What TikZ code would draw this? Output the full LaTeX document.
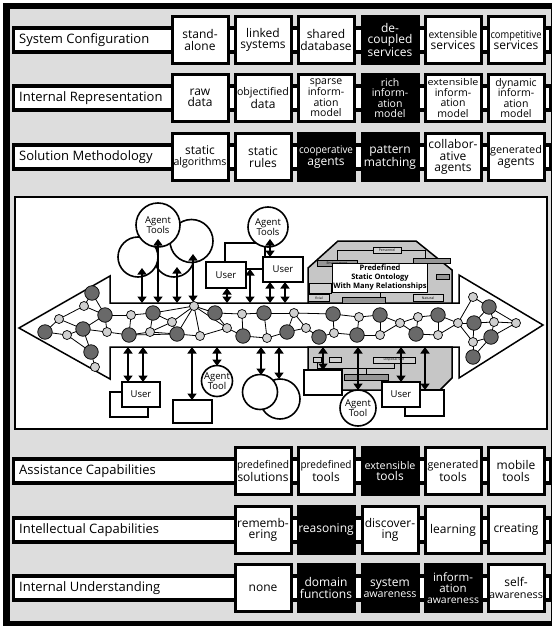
\documentclass[tikz,border=0pt]{standalone}
\usepackage{fontspec}
\setmainfont{Open Sans}
\usepackage{graphicx}
\usetikzlibrary{arrows.meta}
\definecolor{bg}{RGB}{221,221,221}
\definecolor{dk}{RGB}{105,105,105}
\definecolor{lt}{RGB}{208,208,208}
\definecolor{hx}{RGB}{198,198,198}
\definecolor{ob}{RGB}{150,150,150}
\newcommand{\cn}[2][51pt]{\resizebox{#1}{0.88\height}{#2}}
\tikzset{
  barsty/.style={draw, line width=3.2pt, fill=white, minimum height=24pt, minimum width=537pt, anchor=west, inner sep=0pt},
  lab/.style={anchor=west, font=\fontsize{13}{14}\selectfont, inner sep=0pt},
  wbox/.style={draw, line width=3pt, fill=white, minimum width=56pt, minimum height=47pt, inner sep=0pt, align=center, font=\fontsize{12}{11.5}\selectfont},
  wbox4/.style={wbox, font=\fontsize{10.5}{10.6}\selectfont},
  bbox/.style={wbox, fill=black, text=white},
  bbox4/.style={wbox4, fill=black, text=white},
  dn/.style={circle, draw, line width=0.7pt, fill=dk, minimum size=14.5pt, inner sep=0pt},
  ln/.style={circle, draw, line width=0.7pt, fill=lt, minimum size=9pt, inner sep=0pt},
  net/.style={line width=0.8pt},
  dbl/.style={line width=2.8pt, {Triangle[length=6.5pt,width=9pt]}-{Triangle[length=6.5pt,width=9pt]}},
  circ/.style={circle, draw, line width=1.6pt, fill=white, inner sep=0pt, align=center, font=\fontsize{9.5}{10}\selectfont},
  sbox/.style={draw, line width=1.6pt, fill=white, inner sep=0pt, font=\fontsize{9.5}{10}\selectfont},
  org/.style={draw, line width=0.6pt, fill=ob, inner sep=0pt, font=\fontsize{3.5}{4}\selectfont},
  orgw/.style={org, fill=lt},
}
\begin{document}
\begin{tikzpicture}[x=1pt,y=-1pt]
\useasboundingbox (0,0) rectangle (552,626);
% frame
\fill[white] (0,0) rectangle (552,626);
\fill[black] (3,3) rectangle (552,626);
\fill[bg] (10,9) rectangle (551,621);

% ---------- rows ----------
\foreach \i/\cy/\txt in {1/40/System Configuration, 2/98/Internal Representation, 3/157/Solution Methodology, 4/471/Assistance Capabilities, 5/530/Intellectual Capabilities, 6/588/Internal Understanding}{
  \node[barsty] (bar\i) at (12,\cy) {};
  \node[lab] (lab\i) at (19,\cy) {\txt};
}
% row 1
\node[wbox] (b11) at (200,40) {stand-\\alone};
\node[wbox] (b12) at (263,40) {linked\\systems};
\node[wbox] (b13) at (326,40) {shared\\database};
\node[bbox] (b14) at (390,40) {de-\\coupled\\services};
\node[wbox] (b15) at (453,40) {\cn[49pt]{extensible}\\services};
\node[wbox] (b16) at (516,40) {\cn{competitive}\\services};
% row 2
\node[wbox] (b21) at (200,98) {raw\\data};
\node[wbox] (b22) at (263,98) {\cn[52pt]{objectified}\\data};
\node[wbox4] (b23) at (326,98) {sparse\\inform-\\ation\\model};
\node[bbox4] (b24) at (390,98) {rich\\inform-\\ation\\model};
\node[wbox4] (b25) at (453,98) {\cn[51pt]{extensible}\\inform-\\ation\\model};
\node[wbox4] (b26) at (516,98) {dynamic\\inform-\\ation\\model};
% row 3
\node[wbox] (b31) at (200,157) {static\\\cn[53pt]{algorithms}};
\node[wbox] (b32) at (263,157) {static\\rules};
\node[bbox] (b33) at (326,157) {\cn[54pt]{cooperative}\\agents};
\node[bbox] (b34) at (390,157) {pattern\\matching};
\node[wbox] (b35) at (453,157) {collabor-\\ative\\agents};
\node[wbox] (b36) at (516,157) {\cn[52pt]{generated}\\agents};
% row 4
\node[wbox] (b41) at (263,471) {\cn[52pt]{predefined}\\solutions};
\node[wbox] (b42) at (326,471) {\cn[51pt]{predefined}\\tools};
\node[bbox] (b43) at (390,471) {\cn[51pt]{extensible}\\tools};
\node[wbox] (b44) at (453,471) {\cn[51pt]{generated}\\tools};
\node[wbox] (b45) at (516,471) {mobile\\tools};
% row 5
\node[wbox] (b51) at (263,530) {rememb-\\ering};
\node[bbox] (b52) at (326,530) {reasoning};
\node[wbox] (b53) at (390,530) {discover-\\ing};
\node[wbox] (b54) at (453,530) {learning};
\node[wbox] (b55) at (516,530) {creating};
% row 6
\node[wbox] (b61) at (263,588) {none};
\node[bbox] (b62) at (326,588) {domain\\functions};
\node[bbox] (b63) at (390,588) {system\\\cn[53pt]{awareness}};
\node[bbox, font=\fontsize{11.5}{11}\selectfont] (b64) at (453,588) {inform-\\ation\\\cn[52pt]{awareness}};
\node[wbox] (b65) at (516,588) {self-\\\cn[54pt]{awareness}};

% ---------- middle panel ----------
\draw[line width=1.2pt, fill=white] (15,197) rectangle (547,429);
% big double arrow
\draw[line width=1.5pt, fill=white, line join=miter] (110,303) -- (110,276) -- (19,328) -- (110,379) -- (110,347) -- (459,347) -- (459,378) -- (543,325) -- (459,275) -- (459,303) -- cycle;
% ontology hexagons
\draw[line width=1.5pt, fill=hx] (308,303) -- (308,268) -- (338,241) -- (416,241) -- (452,270) -- (452,303) -- cycle;
\draw[line width=1.5pt, fill=hx] (308,347) -- (308,378) -- (322,390) -- (440,390) -- (452,378) -- (452,347) -- cycle;
% tiny org chart (upper)
\draw[line width=0.6pt] (337,250) -- (373,250) (337,250) -- (337,260) (401,250) -- (425,250) -- (425,259) (380,293) -- (380,297);
\node[orgw, minimum width=28pt, minimum height=6pt] (o1) at (387,250) {Personnel};
\node[org, minimum width=40pt, minimum height=6pt] (o2) at (337,263) {Environment};
\node[org, minimum width=37pt, minimum height=5pt] (o3) at (432,261) {};
\node[org, minimum width=13pt, minimum height=5pt] (o4) at (443,277) {};
\node[org, fill=lt, minimum width=22pt, minimum height=10pt] (o5) at (320,288) {};
\node[orgw, minimum width=21pt, minimum height=7pt] (o6) at (319,298) {ficial};
\node[orgw, minimum width=30pt, minimum height=7pt] (o7) at (428,298) {Natural};
\node[org, minimum width=43pt, minimum height=6pt] (o8) at (364,300) {};
\node[draw, line width=1.5pt, fill=white, inner sep=1pt, align=center, font=\bfseries\fontsize{7.5}{9}\selectfont, minimum width=95pt, minimum height=29pt] (onto) at (380,278) {Predefined\\Static Ontology\\With Many Relationships};
% tiny org chart (lower)
\draw[line width=0.6pt] (317,362) -- (317,368) -- (394,368) -- (394,363) (366,368) -- (366,374);
\node[orgw, minimum width=8pt, minimum height=5pt] (o9) at (317,359.5) {};
\node[orgw, minimum width=12pt, minimum height=5pt] (o10) at (335,359.5) {};
\node[orgw, minimum width=42pt, minimum height=6pt] (o11) at (394,360) {Disposal Site};
\node[org, minimum width=44pt, minimum height=6pt] (o12) at (366,377) {};

% ---------- network ----------
\foreach \n/\x/\y in {1/92/293,2/84/306,3/59/319,4/45/332,5/83/329,6/67/335,7/105/315,8/107/332,9/91/352,10/95/367,
 11/131/315,12/129/335,13/153/313,14/150/332,15/172/322,16/177/334,17/194/306,18/200/336,19/215/313,20/227/328,
 21/242/314,22/243/336,23/264/313,24/267/338,25/287/332,26/294/313,27/306/328,28/319/337,29/333/314,30/334/333,
 31/359/317,32/357/335,33/380/315,34/380/335,35/400/323,36/418/317,37/416/334,38/438/315,39/438/335,40/458/323,
 41/473/297,42/489/307,43/474/323,44/494/322,45/516/323,46/491/337,47/473/342,48/473/357}
  \coordinate (n\n) at (\x,\y);
\foreach \a/\b in {1/2,2/3,2/7,3/4,3/5,4/6,6/5,5/7,5/9,5/8,7/8,9/10,6/9,8/12,7/11,1/7,
 11/13,11/12,12/14,13/14,13/15,14/16,15/16,15/17,13/17,16/18,17/18,17/19,17/20,17/16,18/20,19/20,19/21,20/22,21/22,
 21/23,22/24,23/24,23/26,24/25,25/26,25/27,26/27,27/28,26/29,28/30,29/30,29/31,30/32,31/32,31/33,32/34,33/34,33/35,
 34/35,35/36,35/37,36/38,37/39,38/40,39/40,36/37,38/39,14/15,12/16,
 40/43,40/41,41/42,42/43,42/44,43/44,44/45,44/46,45/46,43/47,46/47,47/48,46/48,40/47,45/42}
  \draw[net] (n\a) -- (n\b);
\foreach \n in {1,4,5,7,9,12,13,16,19,22,23,25,28,29,32,33,37,38,42,43,46,48}
  \node[dn] (N\n) at (n\n) {};
\foreach \n in {2,3,6,8,10,11,14,15,17,18,20,21,24,26,27,30,31,34,35,36,39,40,41,44,45,47}
  \node[ln] (N\n) at (n\n) {};

% ---------- upper objects ----------
\node[circ, minimum size=40pt] (M1) at (174,257) {};
\node[circ, minimum size=40pt] (L1) at (138,257) {};
\node[circ, minimum size=43pt] (R1) at (191.5,241) {};
\node[circ, minimum size=44pt] (AT1) at (158,225) {Agent\\Tools};
\node[sbox, minimum width=40pt, minimum height=26pt] (UB) at (245,256) {};
\node[sbox, minimum width=40pt, minimum height=26pt] (UA) at (226,275) {User};
\node[sbox, minimum width=40pt, minimum height=25pt] (UC) at (283,269.5) {User};
\node[circ, minimum size=40pt] (AT2) at (268,227) {Agent\\Tools};

% ---------- lower objects ----------
\node[sbox, minimum width=38pt, minimum height=25pt] (BB1) at (129,404.5) {};
\node[sbox, minimum width=38pt, minimum height=25pt] (BU1) at (141,394.5) {User};
\node[sbox, minimum width=39pt, minimum height=23pt] (BB2) at (192.5,411.5) {};
\node[circ, minimum size=31pt] (AT3) at (217,381) {Agent\\Tool};
\node[circ, minimum size=40pt] (C2) at (280,399) {};
\node[circ, minimum size=35pt] (C1) at (260,392) {};
\node[sbox, minimum width=38pt, minimum height=25pt] (BB3) at (323,382.5) {};
\node[circ, minimum size=36pt] (AT4) at (358,408) {Agent\\Tool};
\node[sbox, minimum width=39pt, minimum height=26pt] (BB4) at (424.5,403) {};
\node[sbox, minimum width=38pt, minimum height=25pt] (BU2) at (401,394.5) {User};

% ---------- connectors ----------
\foreach \k/\x/\ya/\yb in {1/142/303/268, 2/158/303/239, 3/177/303/267, 4/193/302/254, 5/227/303/288, 6/250/303/269,
  7/270/303/282, 8/285/303/282, 9/270/257/239,
  10/128/347/382, 11/143/347/382, 12/192/347/400, 13/217/347/366, 14/261/347/375, 15/279/347/379,
  16/323/347/370, 17/358/347/390, 18/401/347/382, 19/425/347/390}{
  \coordinate (p\k) at (\x,\ya);
  \coordinate (q\k) at (\x,\yb);
  \draw[dbl] (p\k) -- (q\k);
}
\end{tikzpicture}
\end{document}
